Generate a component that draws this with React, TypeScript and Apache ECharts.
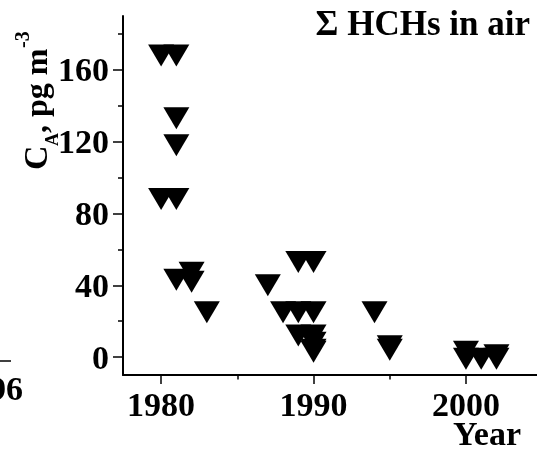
import React, { useEffect, useRef } from "react";
import * as echarts from "echarts";

// Sampling years and Σ HCHs concentrations in air (pg m^-3)
const years = [
  1980, 1980, 1981, 1981, 1981, 1981, 1981, 1982, 1982, 1983, 1987, 1988,
  1989, 1989, 1989, 1990, 1990, 1990, 1990, 1990, 1990, 1994, 1995, 1995,
  2000, 2000, 2001, 2002, 2002,
];
const hchValues = [
  168, 88, 168, 133, 118, 88, 43, 47, 42, 25, 40, 25,
  53, 25, 12, 53, 25, 12, 8, 4, 3, 25, 6, 4,
  3, -1, -1, 1, -1,
];
const xLabelValues = [1980, 1990, 2000];
const xMinorTicks = [1985, 1995];
const yLabelValues = [0, 40, 80, 120, 160];
const yMinorTicks = [20, 60, 100, 140, 180];

const FONT = '"Liberation Serif", "Times New Roman", serif';

export default function App() {
  const ref = useRef<HTMLDivElement>(null);

  useEffect(() => {
    if (!ref.current) return;
    const chart = echarts.init(ref.current, undefined, { renderer: "svg" });
    const data = years.map((y, i) => [y, hchValues[i]]);
    const axisLineStyle = { color: "#000", width: 2 };
    const tickStyle = { color: "#000", width: 1.5 };
    const labelStyle = {
      fontSize: 34,
      fontWeight: "bold" as const,
      fontFamily: FONT,
      color: "#000",
      formatter: (v: number) => String(v),
    };
    const xMin = 1977.5;
    const xMax = 2004.66;
    const yMin = -10;
    const yMax = 190;

    const option: any = {
      animation: false,
      grid: { left: 123, top: 16, right: 0, bottom: 75 },
      xAxis: [
        {
          type: "value",
          min: xMin,
          max: xMax,
          position: "bottom",
          axisLine: { show: true, onZero: false, lineStyle: axisLineStyle },
          axisTick: {
            show: true,
            inside: false,
            customValues: xLabelValues,
            length: 9,
            lineStyle: tickStyle,
          },
          axisLabel: { ...labelStyle, customValues: xLabelValues, margin: 12 },
          splitLine: { show: false },
        },
        {
          type: "value",
          min: xMin,
          max: xMax,
          position: "bottom",
          offset: 0,
          axisLine: { show: false, onZero: false },
          axisTick: {
            show: true,
            inside: false,
            customValues: xMinorTicks,
            length: 4.5,
            lineStyle: tickStyle,
          },
          axisLabel: { show: false },
          splitLine: { show: false },
        },
      ],
      yAxis: [
        {
          type: "value",
          min: yMin,
          max: yMax,
          position: "left",
          axisLine: { show: true, onZero: false, lineStyle: axisLineStyle },
          axisTick: {
            show: true,
            inside: false,
            customValues: yLabelValues,
            length: 10,
            lineStyle: tickStyle,
          },
          axisLabel: { ...labelStyle, customValues: yLabelValues, margin: 14 },
          splitLine: { show: false },
        },
        {
          type: "value",
          min: yMin,
          max: yMax,
          position: "left",
          offset: 0,
          axisLine: { show: false, onZero: false },
          axisTick: {
            show: true,
            inside: false,
            customValues: yMinorTicks,
            length: 5,
            lineStyle: tickStyle,
          },
          axisLabel: { show: false },
          splitLine: { show: false },
        },
      ],
      series: [
        {
          type: "scatter",
          xAxisIndex: 0,
          yAxisIndex: 0,
          data,
          symbol: "triangle",
          symbolRotate: 180,
          symbolSize: [26, 22],
          itemStyle: { color: "#000", opacity: 1 },
          emphasis: { disabled: true },
          clip: false,
        },
      ],
      graphic: [
        {
          type: "text",
          x: 530,
          y: 6,
          style: {
            text: "Σ HCHs in air",
            font: `bold 35px ${FONT}`,
            fill: "#000",
            align: "right",
            verticalAlign: "top",
          },
        },
        {
          type: "text",
          x: 521,
          y: 416,
          style: {
            text: "Year",
            font: `bold 34px ${FONT}`,
            fill: "#000",
            align: "right",
            verticalAlign: "top",
          },
        },
        {
          type: "text",
          x: 23,
          y: 371,
          style: {
            text: "1996",
            font: `bold 34px ${FONT}`,
            fill: "#000",
            align: "right",
            verticalAlign: "top",
          },
        },
        {
          type: "line",
          shape: { x1: 0, y1: 361, x2: 11, y2: 361 },
          style: { stroke: "#000", lineWidth: 1.5 },
        },
        {
          type: "group",
          x: 47,
          y: 170,
          rotation: Math.PI / 2,
          children: [
            {
              type: "text",
              x: 0,
              y: -11.5,
              style: {
                text: "C",
                font: `bold 34px ${FONT}`,
                fill: "#000",
                align: "left",
                verticalAlign: "middle",
              },
            },
            {
              type: "text",
              x: 24,
              y: 5,
              style: {
                text: "A",
                font: `bold 18px ${FONT}`,
                fill: "#000",
                align: "left",
                verticalAlign: "middle",
              },
            },
            {
              type: "text",
              x: 37,
              y: -11,
              style: {
                text: ", pg m",
                font: `bold 32px ${FONT}`,
                fill: "#000",
                align: "left",
                verticalAlign: "middle",
              },
            },
            {
              type: "text",
              x: 122,
              y: -25,
              style: {
                text: "-3",
                font: `bold 20px ${FONT}`,
                fill: "#000",
                align: "left",
                verticalAlign: "middle",
              },
            },
          ],
        },
      ],
    };
    chart.setOption(option);
    return () => chart.dispose();
  }, []);

  return (
    <div
      ref={ref}
      style={{ position: "fixed", left: 0, top: 0, width: 537, height: 450 }}
    />
  );
}
